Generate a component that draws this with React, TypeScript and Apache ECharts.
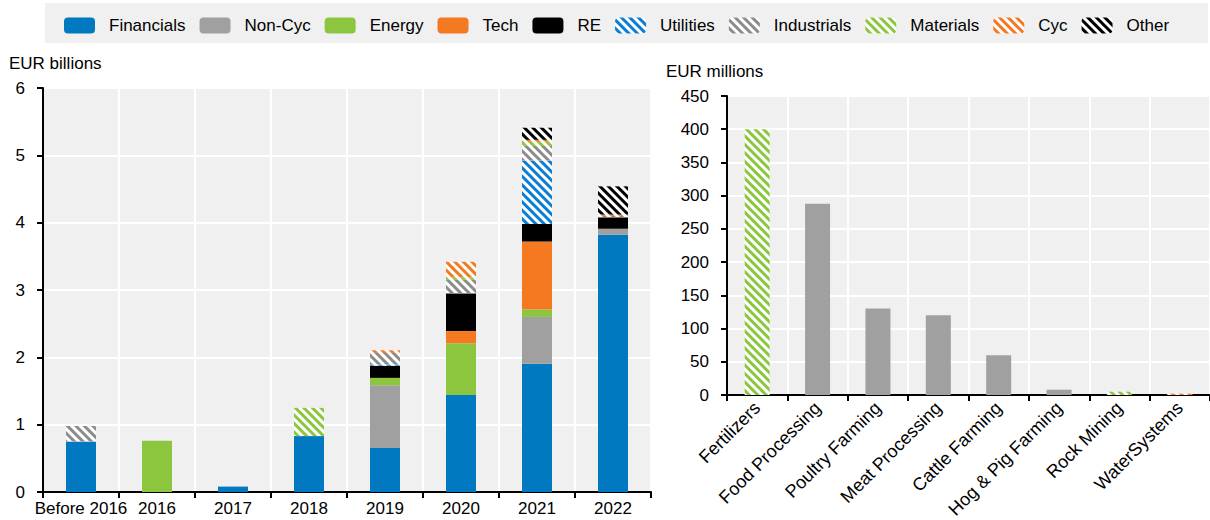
import React, { useEffect, useRef } from "react";
import * as echarts from "echarts";

const years = ["Before 2016", "2016", "2017", "2018", "2019", "2020", "2021", "2022"];
const sectors = ["Financials", "Non-Cyc", "Energy", "Tech", "RE", "Utilities", "Industrials", "Materials", "Cyc", "Other"];
const colors = ["#0079C1", "#A0A0A0", "#8CC63F", "#F47920", "#000000", "#0A7ED4", "#8C8C8C", "#8CC63F", "#F47920", "#000000"];
const hatched = [false, false, false, false, false, true, true, true, true, true];

const financials = [0.75, 0, 0.08, 0.83, 0.655, 1.44, 1.905, 3.82];
const nonCyc = [0, 0, 0, 0, 0.93, 0, 0.695, 0.09];
const energy = [0, 0.76, 0, 0, 0.11, 0.77, 0.11, 0];
const tech = [0, 0, 0, 0, 0, 0.18, 1.01, 0];
const re = [0, 0, 0, 0, 0.18, 0.56, 0.26, 0.17];
const utilities = [0, 0, 0, 0, 0.02, 0, 0.94, 0];
const industrials = [0.23, 0, 0, 0, 0.17, 0.2, 0.22, 0.02];
const materials = [0, 0, 0, 0.42, 0, 0.04, 0.06, 0];
const cyc = [0, 0, 0, 0, 0.04, 0.23, 0.03, 0.02];
const other = [0, 0, 0, 0, 0, 0, 0.18, 0.42];
const leftValues = [financials, nonCyc, energy, tech, re, utilities, industrials, materials, cyc, other];

const activities = ["Fertilizers", "Food Processing", "Poultry Farming", "Meat Processing", "Cattle Farming", "Hog & Pig Farming", "Rock Mining", "WaterSystems"];
const activityValues = [400, 288, 130, 120, 60, 8, 5, 2];
const activitySector = ["Materials", "Non-Cyc", "Non-Cyc", "Non-Cyc", "Non-Cyc", "Non-Cyc", "Materials", "Cyc"];

const FONT = "'Liberation Sans', Arial, sans-serif";
const FS = 17;

function itemStyleFor(i: number) {
  if (!hatched[i]) return { color: colors[i] };
  return {
    color: "#ffffff",
    decal: {
      symbol: "rect",
      symbolSize: 1,
      color: colors[i],
      backgroundColor: "#ffffff",
      dashArrayX: [1, 0],
      dashArrayY: [2.8, 2.8],
      rotation: Math.PI / 4,
    },
  };
}

export default function App() {
  const ref = useRef<HTMLDivElement>(null);
  useEffect(() => {
    if (!ref.current) return;
    const chart = echarts.init(ref.current, null, { renderer: "svg" });
    const series: any[] = [];
    sectors.forEach((name, i) => {
      series.push({
        name,
        type: "bar",
        stack: "left",
        xAxisIndex: 0,
        yAxisIndex: 0,
        barWidth: 30,
        data: leftValues[i],
        itemStyle: itemStyleFor(i),
      });
    });
    const usedRight = Array.from(new Set(activitySector));
    usedRight.forEach((name) => {
      const i = sectors.indexOf(name);
      series.push({
        name,
        type: "bar",
        stack: "right",
        xAxisIndex: 1,
        yAxisIndex: 1,
        barWidth: 25,
        data: activityValues.map((v, k) => (activitySector[k] === name ? v : "-")),
        itemStyle: itemStyleFor(i),
      });
    });

    const axisLabel = { color: "#000", fontSize: FS, fontFamily: FONT };
    chart.setOption({
      animation: false,
      textStyle: { fontFamily: FONT },
      graphic: [
        { type: "rect", left: 45, top: 3, shape: { width: 1163, height: 40 }, style: { fill: "#f0f0f0" }, z: -1 },
        { type: "text", left: 9, top: 55, style: { text: "EUR billions", font: FS + "px " + FONT, fill: "#000" } },
        { type: "text", left: 666, top: 63, style: { text: "EUR millions", font: FS + "px " + FONT, fill: "#000" } },
      ],
      legend: {
        top: 12,
        left: 59,
        itemWidth: 31,
        itemHeight: 16,
        itemGap: 14,
        textStyle: { fontSize: FS, color: "#000", fontFamily: FONT, padding: [0, 0, 0, 9] },
        data: sectors,
      },
      grid: [
        { left: 43, top: 88, right: 559, bottom: 28, show: true, backgroundColor: "#f0f0f0", borderWidth: 0, outerBoundsMode: "none" },
        { left: 727, top: 96, right: 0, bottom: 125, show: true, backgroundColor: "#f0f0f0", borderWidth: 0, outerBoundsMode: "none" },
      ],
      xAxis: [
        {
          type: "category",
          gridIndex: 0,
          data: years,
          axisLine: { lineStyle: { color: "#000", width: 2 } },
          axisTick: { show: true, length: 6, lineStyle: { color: "#000", width: 2 } },
          axisLabel: { ...axisLabel, margin: 8, interval: 0 },
          splitLine: { show: true, lineStyle: { color: "#fff", width: 2 } },
        },
        {
          type: "category",
          gridIndex: 1,
          data: activities,
          axisLine: { lineStyle: { color: "#000", width: 2 } },
          axisTick: { show: true, length: 6, lineStyle: { color: "#000", width: 2 } },
          axisLabel: { ...axisLabel, fontSize: 18, margin: 10, rotate: 45, interval: 0 },
          splitLine: { show: true, lineStyle: { color: "#fff", width: 2 } },
        },
      ],
      yAxis: [
        {
          type: "value",
          gridIndex: 0,
          min: 0,
          max: 6,
          interval: 1,
          axisLine: { show: true, lineStyle: { color: "#000", width: 2 } },
          axisTick: { show: true, length: 6, lineStyle: { color: "#000", width: 2 } },
          axisLabel: { ...axisLabel, margin: 18 },
          splitLine: { show: true, lineStyle: { color: "#fff", width: 2 } },
        },
        {
          type: "value",
          gridIndex: 1,
          min: 0,
          max: 450,
          interval: 50,
          axisLine: { show: true, lineStyle: { color: "#000", width: 2 } },
          axisTick: { show: true, length: 6, lineStyle: { color: "#000", width: 2 } },
          axisLabel: { ...axisLabel, margin: 18 },
          splitLine: { show: true, lineStyle: { color: "#fff", width: 2 } },
        },
      ],
      series,
    });
    return () => chart.dispose();
  }, []);
  return <div ref={ref} style={{ position: "absolute", left: 0, top: 0, width: 1210, height: 520 }} />;
}
